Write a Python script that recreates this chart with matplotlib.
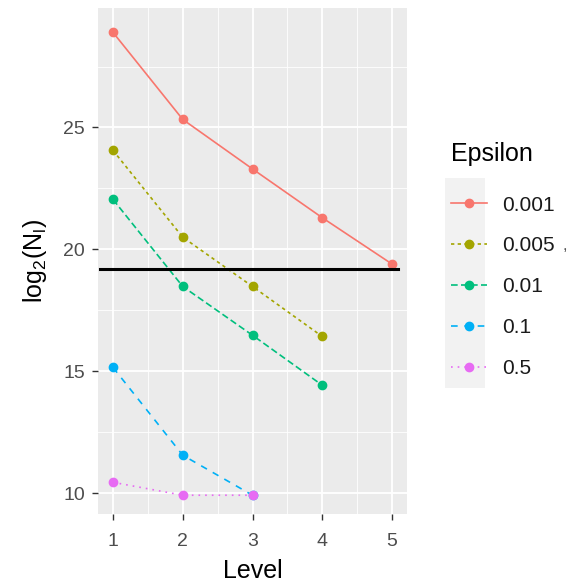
import numpy as np
import matplotlib
matplotlib.use("Agg")
import matplotlib.pyplot as plt
from matplotlib.lines import Line2D
from matplotlib.patches import Rectangle

plt.rcParams["font.family"] = ["Liberation Sans", "DejaVu Sans"]
plt.rcParams["mathtext.fontset"] = "custom"
plt.rcParams["mathtext.rm"] = "Liberation Sans"

# log2 of samples per level, one series per epsilon
epsilons = ["0.001", "0.005", "0.01", "0.1", "0.5"]
levels = {
    "0.001": [1, 2, 3, 4, 5],
    "0.005": [1, 2, 3, 4],
    "0.01": [1, 2, 3, 4],
    "0.1": [1, 2, 3],
    "0.5": [1, 2, 3],
}
log2_n = {
    "0.001": [28.9, 25.33, 23.3, 21.3, 19.4],
    "0.005": [24.06, 20.5, 18.48, 16.43],
    "0.01": [22.05, 18.48, 16.48, 14.43],
    "0.1": [15.16, 11.56, 9.92],
    "0.5": [10.45, 9.92, 9.92],
}
ref_level = 19.18
ref_span = [0.81, 5.09]

colors = ["#F8766D", "#A3A500", "#00BF7D", "#00B0F6", "#E76BF3"]
dashes = [None, (2, 2), (4, 2), (4, 4), (1, 3)]

fig = plt.figure(figsize=(5.68, 5.86), dpi=100)
ax = fig.add_axes([98 / 568, 1 - 514 / 586, 309 / 568, 506 / 586])
ax.set_facecolor("#EBEBEB")

for eps, col, ds in zip(epsilons, colors, dashes):
    ln, = ax.plot(levels[eps], log2_n[eps], color=col, lw=1.2,
                  marker="o", ms=6, mec=col, mfc=col, zorder=3)
    if ds is not None:
        ln.set_dashes(ds)

ax.plot(ref_span, [ref_level, ref_level], color="black", lw=2.2, zorder=4)

ax.set_xlim(0.785, 5.215)
ax.set_ylim(9.15, 29.9)
ax.set_xticks([1, 2, 3, 4, 5])
ax.set_yticks([10, 15, 20, 25])
ax.set_xticks([1.5, 2.5, 3.5, 4.5], minor=True)
ax.set_yticks([12.5, 17.5, 22.5, 27.5], minor=True)
ax.grid(which="major", color="white", lw=1.3, zorder=0)
ax.grid(which="minor", color="white", lw=0.6, zorder=0)
ax.set_axisbelow(True)
for s in ax.spines.values():
    s.set_visible(False)
ax.tick_params(which="major", length=4.5, width=1, color="#333333",
               labelcolor="#4D4D4D", labelsize=14, pad=5)
ax.tick_params(axis="x", which="major", pad=9)
ax.tick_params(which="minor", length=0)

ax.set_xlabel("Level", fontsize=18, labelpad=7)
ax.set_ylabel(r"$\mathregular{log_2(N_l)}$", fontsize=18, labelpad=10)

handles = []
for eps, col, ds in zip(epsilons, colors, dashes):
    h = Line2D([], [], color=col, lw=1.2, marker="o", ms=6, mec=col, mfc=col)
    if ds is not None:
        h.set_dashes(ds)
    handles.append(h)
leg = fig.legend(handles, epsilons, title="Epsilon", loc="upper left",
                 bbox_to_anchor=(441 / 568, 1 - 132 / 586), frameon=False,
                 fontsize=15, title_fontsize=18, handlelength=1.7,
                 labelspacing=1.05, handletextpad=0.75, borderpad=0)
leg._legend_box.align = "left"
leg._legend_box.sep = 21
for t in leg.get_texts():
    t.set_color("#1A1A1A")

# grey key column behind the legend symbols
fig.patches.append(Rectangle((445 / 568, 1 - 388 / 586), 40 / 568, 210 / 586,
                             transform=fig.transFigure, facecolor="#F2F2F2",
                             edgecolor="none", zorder=0))

fig.text(563 / 568, 1 - 250 / 586, ",", fontsize=12, color="#555555")

fig.savefig("out.png", dpi=100, facecolor="white")
